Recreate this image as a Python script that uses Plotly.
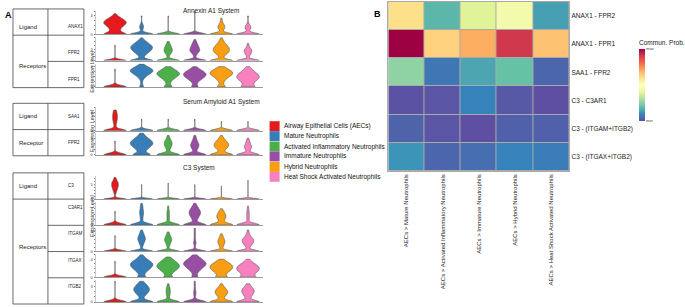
import numpy as np
import plotly.graph_objects as go

W, H = 685, 307
FONT = "Liberation Sans, Arial, sans-serif"

# ---------------- data ----------------
cell_types = ["Airway Epithelial Cells (AECs)", "Mature Neutrophils",
              "Activated Inflammatory Neutrophils", "Immature Neutrophils",
              "Hybrid Neutrophils", "Heat Shock Activated Neutrophils"]
cell_colors = ["#E41A1C", "#377EB8", "#4DAF4A", "#984EA3", "#F89E12", "#F781BF"]

system_titles = ["Annexin A1 System", "Serum Amyloid A1 System", "C3 System"]
ligand_genes = ["ANAX1", "SAA1", "C3"]
receptor_genes = [["FPR2", "FPR1"], ["FPR2"], ["C3AR1", "ITGAM", "ITGAX", "ITGB2"]]
receptor_roles = ["Receptors", "Receptor", "Receptors"]

# cell counts at expression levels 0, 0.5, 1.0, 1.5, ... (one list per cell type)
anax1_counts = [[20, 8, 7, 9, 13, 16, 14, 9, 4, 1],
                [30, 1, 2, 4, 3, 1, 0, 0, 1],
                [40, 0, 0, 0, 0, 0, 0, 0, 1],
                [40, 0, 0, 0, 0, 0, 0, 0, 0, 0, 1],
                [22, 1, 3, 5, 4, 2, 1, 1],
                [25, 1, 3, 5, 3, 1, 0, 0, 1]]
fpr2_a_counts = [[40, 0, 0, 0, 0, 0, 0, 0, 1],
                 [20, 4, 3, 5, 8, 11, 13, 14, 12, 9, 6, 3, 1],
                 [20, 2, 1, 2, 4, 5, 5, 4, 3, 2, 1],
                 [20, 2, 1, 2, 4, 6, 6, 5, 4, 3, 2, 1],
                 [20, 3, 3, 5, 8, 10, 10, 9, 7, 5, 3, 2, 1],
                 [20, 2, 1, 3, 4, 5, 4, 2, 1, 1]]
fpr1_counts = [[40, 0, 0, 0, 0, 0, 0, 1],
               [3, 1, 1, 2, 5, 9, 14, 13, 7, 2],
               [6, 2, 3, 6, 10, 14, 12, 7, 3],
               [5, 2, 4, 8, 12, 14, 11, 6, 2],
               [6, 2, 3, 5, 9, 13, 13, 8, 3],
               [10, 6, 8, 12, 14, 12, 8, 5, 2]]
saa1_counts = [[35, 3, 2, 3, 4, 5, 5, 5, 4, 3],
               [40, 0, 0, 0, 0, 1],
               [40, 0, 0, 0, 0, 1],
               [40, 0, 0, 0, 0, 1],
               [40, 0, 0, 0, 1],
               [40, 0, 0, 0, 1]]
fpr2_s_counts = [[40, 0, 0, 0, 0, 1],
                 [18, 5, 8, 14, 18, 16, 10, 5, 2],
                 [20, 1, 2, 4, 5, 4, 2, 1],
                 [20, 1, 3, 5, 5, 3, 2, 1],
                 [20, 2, 5, 9, 9, 6, 3, 1],
                 [20, 1, 3, 5, 3, 2, 1]]
c3_counts = [[35, 2, 1, 1, 2, 3, 4, 5, 6, 7, 7, 7, 6, 4, 3, 2],
             [40, 0, 0, 0, 0, 0, 0, 0, 0, 0, 1],
             [40, 0, 0, 0, 0, 0, 0, 0, 0, 0, 0, 1],
             [40, 0, 0, 0, 0, 0, 0, 0, 0, 0, 1],
             [40, 0, 0, 0, 0, 0, 0, 0, 0, 1],
             [40, 0, 0, 0, 0, 0, 0, 0, 0, 0, 0, 0, 0, 1]]
c3ar1_counts = [[40, 0, 0, 0, 0, 1],
                [25, 1, 2, 2, 3, 3, 2, 2, 1],
                [28, 1, 2, 2, 2, 2, 1, 1],
                [20, 2, 3, 5, 7, 7, 5, 3, 1],
                [20, 2, 4, 6, 5, 3, 1],
                [28, 1, 2, 2, 2, 2, 1, 1]]
itgam_counts = [[40, 0, 0, 0, 0, 0, 0, 0, 1],
                [22, 1, 1, 2, 3, 4, 5, 5, 4, 3, 2, 1],
                [22, 1, 1, 2, 3, 4, 5, 4, 3, 2, 1],
                [28, 1, 1, 1, 2, 2, 1, 1, 1, 1, 1, 1, 1],
                [22, 1, 2, 3, 4, 5, 4, 3, 2, 1],
                [20, 2, 2, 4, 6, 7, 7, 5, 3, 2, 1, 1]]
itgax_counts = [[40, 0, 0, 0, 0, 0, 0, 1],
                [8, 4, 6, 10, 14, 17, 18, 14, 9, 5, 2],
                [8, 4, 7, 11, 15, 17, 15, 11, 7, 3],
                [5, 3, 4, 7, 10, 14, 16, 14, 10, 6, 3],
                [10, 5, 8, 12, 15, 15, 12, 7, 3],
                [12, 8, 10, 14, 15, 13, 9, 5, 2]]
itgb2_counts = [[40, 0, 0, 0, 0, 0, 0, 0, 1],
                [20, 2, 3, 6, 9, 10, 8, 5, 2],
                [25, 1, 2, 3, 3, 3, 2, 1],
                [30, 1, 1, 2, 2, 1, 1, 1, 1],
                [20, 2, 4, 7, 8, 6, 3, 1],
                [20, 2, 4, 6, 8, 7, 4, 2]]
level_step = 0.5

violin_rows = [anax1_counts, fpr2_a_counts, fpr1_counts,
               saa1_counts, fpr2_s_counts,
               c3_counts, c3ar1_counts, itgam_counts, itgax_counts, itgb2_counts]
row_axis_max = [5.1, 6.1, 4.6, 5.1, 4.0, 7.9, 4.2, 6.0, 5.1, 4.2]
row_tick_label = [4, 3, 4, 4, 3, 5, 3, 5, 4, 3]

heat_pairs = ["ANAX1 - FPR2", "ANAX1 - FPR1", "SAA1 - FPR2",
              "C3 - C3AR1", "C3 - (ITGAM+ITGB2)", "C3 - (ITGAX+ITGB2)"]
heat_targets = ["AECs > Mature Neutrophils", "AECs > Activated Inflammatory Neutrophils",
                "AECs > Immature Neutrophils", "AECs > Hybrid Neutrophils",
                "AECs > Heat Shock Activated Neutrophils"]
heat_prob = [[0.60, 0.18, 0.39, 0.45, 0.14],
             [1.00, 0.63, 0.70, 0.91, 0.66],
             [0.26, 0.07, 0.15, 0.20, 0.04],
             [0.005, 0.01, 0.09, 0.015, 0.00],
             [0.035, 0.01, 0.00, 0.03, 0.03],
             [0.12, 0.04, 0.055, 0.09, 0.08]]
spectral_r = ["#5e4fa2", "#3288bd", "#66c2a5", "#abdda4", "#e6f598", "#ffffbf",
              "#fee08b", "#fdae61", "#f46d43", "#d53e4f", "#9e0142"]

# ---------------- layout helpers (pixel geometry) ----------------
def fx(px):
    return px / W

def fy(py):
    return 1 - py / H

rows_px = [(11, 34.5), (37.5, 61), (64, 87.5),
           (108, 131.5), (133.5, 156),
           (177.5, 200.5), (203.5, 226.5), (229.5, 253), (256, 279), (282, 304)]
vx0, vx1 = 96, 263
section_title_y = [5, 97, 169]
section_span = [(11, 87.5), (108, 156), (177.5, 304)]
table_tops = [9, 104, 174]
table_row_h = 26.4
tx0, tx1, tx2 = 13, 48, 84

fig = go.Figure()
layout = {}
shapes = []
annotations = []

# ---------------- violins ----------------
for r, counts_list in enumerate(violin_rows):
    k = r + 1
    xa = "x" if k == 1 else f"x{k}"
    ya = "y" if k == 1 else f"y{k}"
    for j, counts in enumerate(counts_list):
        levels = np.arange(len(counts)) * level_step
        samples = np.repeat(levels, counts)
        fig.add_trace(go.Violin(
            y=samples, x0=j, xaxis=xa, yaxis=ya,
            width=0.85, scalemode="width", scalegroup=f"r{r}c{j}",
            spanmode="hard", bandwidth=0.3,
            points=False, fillcolor=cell_colors[j], opacity=1,
            line=dict(color="#555555", width=0.6),
            showlegend=False, hoverinfo="skip"))
    top, base = rows_px[r]
    R = row_axis_max[r]
    L = row_tick_label[r]
    tv = list(range(0, int(R) + 1))
    tt = [str(v) if v in (0, L) else "" for v in tv]
    xkey = "xaxis" if k == 1 else f"xaxis{k}"
    ykey = "yaxis" if k == 1 else f"yaxis{k}"
    layout[xkey] = dict(domain=[fx(vx0), fx(vx1)], anchor=ya, type="linear",
                        range=[-0.72, 5.55], showline=True, linecolor="#9a9a9a",
                        linewidth=1.2, showticklabels=False, ticks="",
                        showgrid=False, zeroline=False, fixedrange=True)
    layout[ykey] = dict(domain=[fy(base), fy(top)], anchor=xa, range=[0, R],
                        tickvals=tv, ticktext=tt, ticks="outside", ticklen=1.5,
                        tickwidth=0.5, tickcolor="#888", showline=True,
                        linecolor="#c8c8c8", linewidth=0.5, showgrid=False,
                        zeroline=False, tickfont=dict(size=4, color="#444"),
                        fixedrange=True)

# section titles and y titles
for s in range(3):
    annotations.append(dict(x=fx((vx0 + vx1) / 2 + 2), y=fy(section_title_y[s]),
                            xref="paper", yref="paper", text=system_titles[s],
                            showarrow=False, font=dict(size=6.5, color="#222")))
    a, b = section_span[s]
    annotations.append(dict(x=fx(87), y=fy((a + b) / 2), xref="paper", yref="paper",
                            text="Expression Level", textangle=-90, showarrow=False,
                            font=dict(size=5.5, color="#333")))

# ---------------- tables ----------------
LC = "#444444"
for s in range(3):
    n = 1 + len(receptor_genes[s])
    top = table_tops[s]
    edges = [top + i * table_row_h for i in range(n + 1)]
    bottom = edges[-1]
    for xv in (tx0, tx1, tx2):
        shapes.append(dict(type="line", xref="paper", yref="paper",
                           x0=fx(xv), x1=fx(xv), y0=fy(top), y1=fy(bottom),
                           line=dict(color=LC, width=0.8)))
    for i, e in enumerate(edges):
        xs = tx0 if i in (0, 1, n) else tx1
        shapes.append(dict(type="line", xref="paper", yref="paper",
                           x0=fx(xs), x1=fx(tx2), y0=fy(e), y1=fy(e),
                           line=dict(color=LC, width=0.8)))
    annotations.append(dict(x=fx(17), y=fy((edges[0] + edges[1]) / 2), xref="paper",
                            yref="paper", text="Ligand", xanchor="left",
                            showarrow=False, font=dict(size=6, color="#222")))
    annotations.append(dict(x=fx((tx1 + tx2) / 2), y=fy((edges[0] + edges[1]) / 2),
                            xref="paper", yref="paper", text=ligand_genes[s],
                            showarrow=False, font=dict(size=4.5, color="#222")))
    annotations.append(dict(x=fx(17), y=fy((edges[1] + bottom) / 2), xref="paper",
                            yref="paper", text=receptor_roles[s], xanchor="left",
                            showarrow=False, font=dict(size=6, color="#222")))
    for i, g in enumerate(receptor_genes[s]):
        annotations.append(dict(x=fx((tx1 + tx2) / 2),
                                y=fy((edges[i + 1] + edges[i + 2]) / 2),
                                xref="paper", yref="paper", text=g, showarrow=False,
                                font=dict(size=4.5, color="#222")))

# ---------------- legend ----------------
leg_y = [127, 137, 147.5, 157.5, 168, 178]
for i, (name, col) in enumerate(zip(cell_types, cell_colors)):
    shapes.append(dict(type="rect", xref="paper", yref="paper",
                       x0=fx(270), x1=fx(280), y0=fy(leg_y[i] - 5), y1=fy(leg_y[i] + 5),
                       fillcolor=col, line=dict(width=0)))
    annotations.append(dict(x=fx(282), y=fy(leg_y[i]), xref="paper", yref="paper",
                            text=name, xanchor="left", showarrow=False,
                            font=dict(size=6.5, color="#111")))

# ---------------- heatmap ----------------
hx0, hx1, hy0, hy1 = 389, 570, 2, 172
shapes.append(dict(type="rect", xref="paper", yref="paper", layer="below",
                   x0=fx(hx0), x1=fx(hx1), y0=fy(hy1), y1=fy(hy0),
                   fillcolor="#aaaaaa", line=dict(width=0)))
fig.add_trace(go.Heatmap(
    z=heat_prob, x=heat_targets, y=heat_pairs, xaxis="x11", yaxis="y11",
    colorscale=[[i / 10, c] for i, c in enumerate(spectral_r)], zmin=0, zmax=1,
    xgap=1, ygap=1, hoverinfo="skip",
    colorbar=dict(x=fx(640), xanchor="left", y=fy(37), yanchor="top",
                  len=(122 - 37) / H, lenmode="fraction", thickness=6, xpad=0, ypad=0,
                  outlinewidth=0, tickvals=[0, 1], ticktext=["min", "max"],
                  ticks="", tickfont=dict(size=4, color="#444"),
                  title=dict(text="Commun. Prob.", side="top",
                             font=dict(size=6.5, color="#222")))))
layout["xaxis11"] = dict(domain=[fx(hx0), fx(hx1)], anchor="y11", type="category",
                         tickangle=-90, tickfont=dict(size=6, color="#222"),
                         showline=True, mirror=True, linecolor="#aaaaaa", linewidth=1,
                         ticks="", showgrid=False, zeroline=False, fixedrange=True)
layout["yaxis11"] = dict(domain=[fy(hy1), fy(hy0)], anchor="x11", type="category",
                         autorange="reversed", side="right",
                         tickfont=dict(size=6.5, color="#222"), showline=True,
                         mirror=True, linecolor="#aaaaaa", linewidth=1, ticks="",
                         showgrid=False, zeroline=False, fixedrange=True)

# panel letters
annotations.append(dict(x=fx(3), y=fy(8), xref="paper", yref="paper", text="<b>A</b>",
                        showarrow=False, xanchor="left", font=dict(size=9, color="#000")))
annotations.append(dict(x=fx(373), y=fy(7), xref="paper", yref="paper", text="<b>B</b>",
                        showarrow=False, xanchor="left", font=dict(size=9, color="#000")))

fig.update_layout(width=W, height=H, autosize=False,
                  margin=dict(l=0, r=0, t=0, b=0),
                  paper_bgcolor="white", plot_bgcolor="white",
                  font=dict(family=FONT), showlegend=False,
                  shapes=shapes, annotations=annotations, **layout)

fig.write_html("out.html", config={"displayModeBar": False},
               post_script="document.body.style.margin='0px';")
